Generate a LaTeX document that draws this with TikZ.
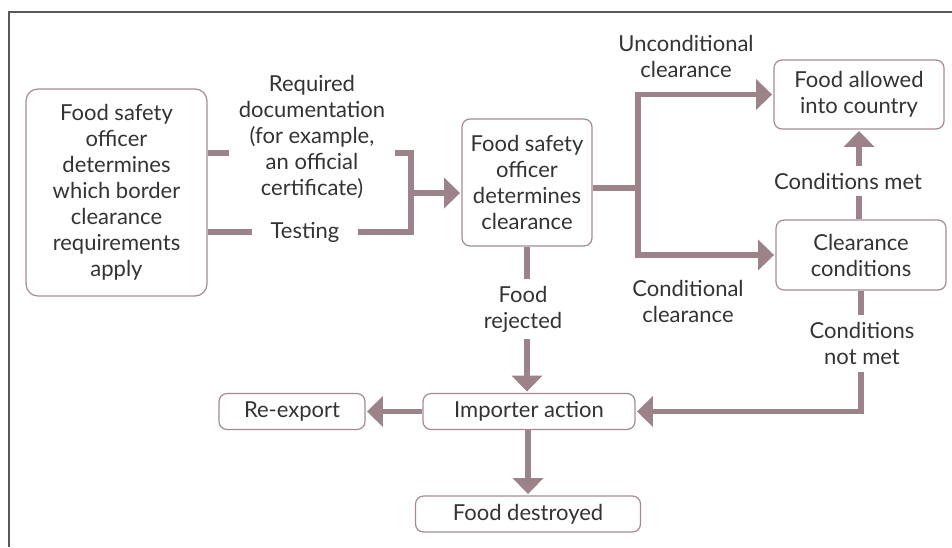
\documentclass[tikz,border=0pt]{standalone}
\usepackage{fontspec}
\setmainfont{Lato}
\usetikzlibrary{arrows.meta}
\definecolor{flowcol}{RGB}{155,131,137}
\definecolor{boxcol}{RGB}{165,138,146}
\definecolor{textcol}{RGB}{51,51,51}
\definecolor{framecol}{RGB}{90,90,90}
\tikzset{
  stage/.style = {draw = boxcol, line width = 0.9pt, rounded corners = 6pt,
    inner sep = 0pt, align = center, text = textcol},
  tag/.style = {inner sep = 3pt, align = center, text = textcol},
  flow/.style = {draw = flowcol, line width = 3.8pt, line cap = butt, line join = miter},
  arrow/.style = {flow, -{Triangle[length = 12pt, width = 22.5pt]}, shorten > = 1pt}
}
\begin{document}
\begin{tikzpicture}[x = 0.75pt, y = -0.75pt, font = \fontsize{16.5}{19.5}\selectfont]
  \useasboundingbox (0,0) rectangle (952,547);
  \draw[framecol, line width = 0.8pt] (9,547) -- (9,12) -- (952,12);

  \node[stage, rounded corners = 9pt, minimum width = 135.75pt, minimum height = 155.25pt]
    (officer) at (116.5,192.5) {Food safety\\officer\\determines\\which border\\clearance\\requirements\\apply};
  \node[stage, minimum width = 97.5pt, minimum height = 95.25pt]
    (decide) at (527,182.5) {Food safety\\officer\\determines\\clearance};
  \node[stage, minimum width = 127.5pt, minimum height = 51.75pt]
    (allowed) at (859,94.5) {Food allowed\\into country};
  \node[stage, minimum width = 127.5pt, minimum height = 52.5pt]
    (conditions) at (861,255) {Clearance\\conditions};
  \node[stage, minimum width = 159pt, minimum height = 27pt]
    (importer) at (529,411.5) {Importer action};
  \node[stage, minimum width = 109.5pt, minimum height = 27pt]
    (reexport) at (292,411.5) {Re-export};
  \node[stage, minimum width = 168.75pt, minimum height = 27pt]
    (destroyed) at (528,514) {Food destroyed};

  \node[tag, inner xsep = 7pt] (docs) at (312,137.5) {Required\\documentation\\(for example,\\an official\\certificate)};
  \node[tag, inner xsep = 14pt] (testing) at (305,232) {Testing};
  \node[tag] (uncond) at (686,56) {Unconditional\\clearance};
  \node[tag] (cond) at (688,301) {Conditional\\clearance};
  \node[tag, inner ysep = 5pt] (rejected) at (523,309) {Food\\rejected};
  \node[tag, inner ysep = 5pt] (met) at (848,181) {Conditions met};
  \node[tag, inner ysep = 5pt] (notmet) at (862,343.5) {Conditions\\not met};

  \coordinate (jtop) at (411,153);
  \coordinate (jbot) at (411,232);
  \coordinate (jmid) at (411,193);
  \coordinate (split) at (638,188);

  \draw[flow] (officer.east |- jtop) -- (docs.west |- jtop);
  \draw[flow] (officer.east |- testing) -- (testing.west);
  \draw[flow] (docs.east |- jtop) -- (jtop) -- (jbot) -- (testing.east);
  \draw[arrow] (jmid) -- (decide.west |- jmid);

  \draw[flow] (decide.east |- split) -- (split);
  \draw[arrow] (split) |- (allowed.west);
  \draw[arrow] (split) |- (conditions.west);

  \draw[flow] (allowed.south |- conditions.north) -- (allowed.south |- met.south);
  \draw[arrow] (allowed.south |- met.north) -- (allowed.south);

  \draw[flow] (conditions.south) -- (conditions.south |- notmet.north);
  \draw[arrow] (conditions.south |- notmet.south) |- (importer.east);

  \draw[flow] (decide.south) -- (decide.south |- rejected.north);
  \draw[arrow] (decide.south |- rejected.south) -- (decide.south |- importer.north);

  \draw[arrow] (importer.west) -- (reexport.east |- importer.west);
  \draw[arrow] (destroyed.north |- importer.south) -- (destroyed.north);
\end{tikzpicture}
\end{document}
